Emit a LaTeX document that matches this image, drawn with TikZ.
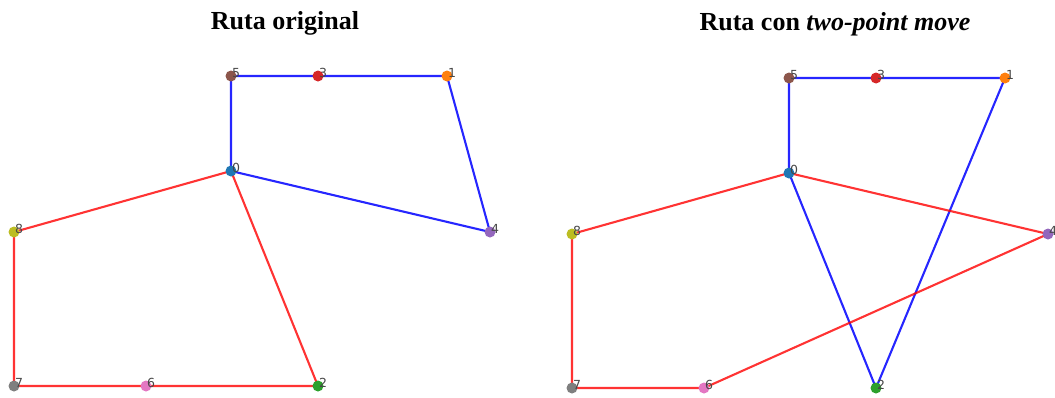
\documentclass[tikz,border=0pt]{standalone}
\usepackage{fontspec}
\setmainfont{Liberation Serif}
\newfontfamily\lblfont{DejaVu Sans}
\usepackage{xcolor}
\definecolor{tabblue}{HTML}{1F77B4}
\definecolor{taborange}{HTML}{FF7F0E}
\definecolor{tabgreen}{HTML}{2CA02C}
\definecolor{tabred}{HTML}{D62728}
\definecolor{tabpurple}{HTML}{9467BD}
\definecolor{tabbrown}{HTML}{8C564B}
\definecolor{tabpink}{HTML}{E377C2}
\definecolor{tabgray}{HTML}{7F7F7F}
\definecolor{tabolive}{HTML}{BCBD22}
\tikzset{
  tourA/.style={blue, opacity=0.85, line width=2.1pt},
  tourB/.style={red, opacity=0.8, line width=2.1pt},
  lbl/.style={anchor=base west, inner sep=0pt, text=black!72, font=\lblfont\fontsize{12.5}{12.5}\selectfont},
  ttl/.style={anchor=base, inner sep=0pt, font=\bfseries\fontsize{26}{26}\selectfont}
}

\begin{document}
\begin{tikzpicture}[x=1pt, y=-1pt]
\useasboundingbox (0,0) rectangle (1055,397);
% titles
\node[ttl] (tA) at (285,29) {Ruta original};
\node[ttl] (tB) at (835,30) {Ruta con \textit{two-point move}};
% city positions
\foreach \n/\x/\y in {0/231/171, 1/447/76, 2/318/386, 3/318/76, 4/490/232,
    5/231/76, 6/146/386, 7/14/386, 8/14/232}
{
    \coordinate (L\n) at (\x,\y);
    \coordinate (R\n) at (\x+558,\y+2);
}
% original tour
\draw[tourA] (L0) -- (L5) -- (L3) -- (L1) -- (L4) -- cycle;
\draw[tourB] (L0) -- (L8) -- (L7) -- (L6) -- (L2) -- cycle;
% tour after the move
\draw[tourA] (R0) -- (R5) -- (R3) -- (R1) -- (R2) -- cycle;
\draw[tourB] (R0) -- (R8) -- (R7) -- (R6) -- (R4) -- cycle;
% cities
\foreach \n/\c in {0/tabblue, 1/taborange, 2/tabgreen, 3/tabred, 4/tabpurple,
    5/tabbrown, 6/tabpink, 7/tabgray, 8/tabolive}
{
    \fill[\c] (L\n) circle (5.5pt);
    \fill[\c] (R\n) circle (5.5pt);
    \node[lbl] (lL\n) at ([xshift=1pt,yshift=-1pt]L\n) {\n};
    \node[lbl] (lR\n) at ([xshift=1pt,yshift=-1pt]R\n) {\n};
}
\end{tikzpicture}
\end{document}
